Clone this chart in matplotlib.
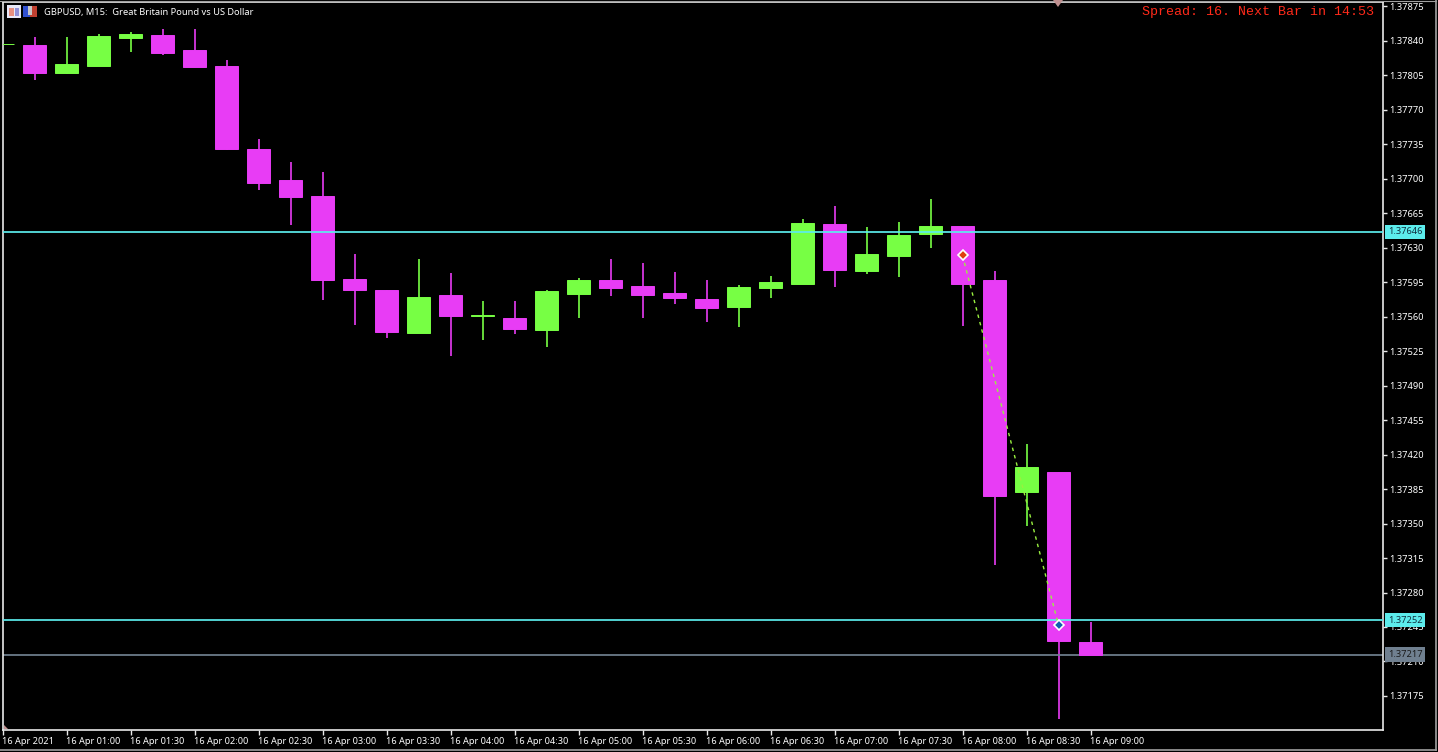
import numpy as np
import matplotlib
matplotlib.use("Agg")
import matplotlib.pyplot as plt
from matplotlib.patches import Rectangle
from matplotlib.lines import Line2D

W, H = 1438, 752

# prices in points (1e-5)
opens = [137836, 137835, 137807, 137814, 137843, 137846, 137830, 137814, 137730, 137699,
         137682, 137598, 137587, 137543, 137582, 137561, 137559, 137546, 137583, 137597,
         137591, 137584, 137578, 137570, 137589, 137593, 137654, 137606, 137621, 137644,
         137652, 137597, 137382, 137402, 137230]
highs = [137836, 137844, 137844, 137847, 137849, 137852, 137852, 137820, 137740, 137717,
         137707, 137623, 137587, 137618, 137604, 137576, 137576, 137587, 137599, 137618,
         137614, 137605, 137597, 137592, 137601, 137659, 137672, 137651, 137656, 137679,
         137652, 137606, 137431, 137402, 137250]
lows = [137836, 137800, 137806, 137814, 137828, 137825, 137812, 137729, 137688, 137653,
        137577, 137551, 137538, 137543, 137520, 137536, 137542, 137529, 137559, 137581,
        137558, 137573, 137554, 137549, 137579, 137593, 137590, 137603, 137600, 137630,
        137550, 137308, 137347, 137152, 137217]
closes = [137836, 137807, 137816, 137845, 137847, 137827, 137813, 137730, 137695, 137681,
          137597, 137587, 137544, 137580, 137561, 137562, 137547, 137586, 137597, 137589,
          137582, 137579, 137569, 137590, 137595, 137655, 137607, 137623, 137643, 137652,
          137593, 137378, 137407, 137231, 137217]

y_ticks = [1.37875, 1.37840, 1.37805, 1.37770, 1.37735, 1.37700, 1.37665, 1.37630, 1.37595,
           1.37560, 1.37525, 1.37490, 1.37455, 1.37420, 1.37385, 1.37350, 1.37315, 1.37280,
           1.37245, 1.37210, 1.37175]
x_labels = ["16 Apr 2021", "16 Apr 01:00", "16 Apr 01:30", "16 Apr 02:00", "16 Apr 02:30",
            "16 Apr 03:00", "16 Apr 03:30", "16 Apr 04:00", "16 Apr 04:30", "16 Apr 05:00",
            "16 Apr 05:30", "16 Apr 06:00", "16 Apr 06:30", "16 Apr 07:00", "16 Apr 07:30",
            "16 Apr 08:00", "16 Apr 08:30", "16 Apr 09:00"]

level_prices = [1.37646, 1.37252]
bid_price = 1.37217
trade_bars = [30, 33]
trade_prices = [1.37622, 1.37247]

BG = "#000000"
UP = "#77ff44"
DOWN = "#e83cf5"
CYAN = "#5cecec"
SLATE = "#708090"
FRAME = "#e8e8e8"
FONT = "Noto Sans"

o = np.array(opens) * 1e-5
h = np.array(highs) * 1e-5
l = np.array(lows) * 1e-5
c = np.array(closes) * 1e-5
idx = np.arange(len(o))
colors = [UP if up else DOWN for up in c >= o]

fig = plt.figure(figsize=(W / 100, H / 100), dpi=100, facecolor=BG)
ax = fig.add_axes([2.5 / W, (H - 730) / H, 1380.5 / W, 728.5 / H], facecolor=BG)

# candles
ax.vlines(idx, l, h, colors=colors, linewidth=1.2, zorder=2)
ax.bar(idx, np.abs(c - o), bottom=np.minimum(o, c), width=0.69, color=colors,
       edgecolor=colors, linewidth=0.7, zorder=3)

# levels
for p in level_prices:
    ax.axhline(p, color=CYAN, linewidth=1.25, zorder=4)
ax.axhline(bid_price, color=SLATE, linewidth=1.25, zorder=2.5)

# trade line and arrows
ax.plot(trade_bars, trade_prices, color="#99f040", linewidth=1.0, dashes=(2.5, 3), zorder=5)
ax.plot(trade_bars[0], trade_prices[0], marker="D", ms=4.8, mfc="#e04010", mec="white", mew=1.2, zorder=6)
ax.plot(trade_bars[1], trade_prices[1], marker="D", ms=4.8, mfc="#1060b0", mec="white", mew=1.2, zorder=6)

ax.set_xlim(0, 1380.5 / 32)
ax.set_ylim(1.371405, 1.378796)

ax.yaxis.tick_right()
ax.set_yticks(y_ticks)
ax.set_yticklabels([f"{v:.5f}" for v in y_ticks], fontfamily=FONT, fontsize=6.7, color="white")
ax.set_xticks(np.arange(len(x_labels)) * 2)
ax.set_xticklabels(x_labels, fontfamily=FONT, fontsize=6.6, color="white", ha="left")
ax.tick_params(axis="y", length=3, width=1, color=FRAME, pad=1.5)
ax.tick_params(axis="x", length=3.5, width=1, color=FRAME, pad=1.5)
for s in ax.spines.values():
    s.set_color(FRAME)
    s.set_linewidth(1.2)

# price tags on the scale
box_tr = ax.get_yaxis_transform()
for p, col in [(level_prices[0], CYAN), (level_prices[1], CYAN), (bid_price, SLATE)]:
    ax.text(1 + 5 / 1380.5, p, f"{p:.5f}", transform=box_tr, ha="left", va="center",
            fontfamily=FONT, fontsize=6.7, color="#103040" if col == CYAN else "#1a1a1a",
            zorder=20, clip_on=False,
            bbox=dict(boxstyle="square,pad=0.28", fc=col, ec="none"))

ax.text(1 - 9 / 1380.5, 1 - 10.5 / 728.5, "Spread: 16. Next Bar in 14:53", transform=ax.transAxes,
        ha="right", va="center", fontfamily="Liberation Mono", fontsize=9.6, color="#ff2a1a")
ax.text(41 / 1380.5, 1 - 10.5 / 728.5, "GBPUSD, M15:  Great Britain Pound vs US Dollar",
        transform=ax.transAxes, ha="left", va="center", fontfamily=FONT, fontsize=6.7, color="white")


def px_rect(x, y, w, hh, col, z=15):
    fig.add_artist(Rectangle((x / W, 1 - (y + hh) / H), w / W, hh / H, transform=fig.transFigure,
                             fc=col, ec="none", zorder=z))


# toolbar icons next to the symbol name
px_rect(7, 5, 14, 13, "#e8e8f8")
px_rect(9, 8, 5, 8, "#e89080")
px_rect(15, 8, 4, 8, "#9090d8")
px_rect(23, 6, 7, 11, "#3050d0")
px_rect(30, 6, 7, 11, "#c04030")
px_rect(28, 6, 4, 9, "#c8c8c8")

# chart shift markers
fig.add_artist(plt.Polygon([[1053 / W, 1], [1063 / W, 1], [1058 / W, 1 - 7 / H]],
                           transform=fig.transFigure, fc="#c09090", ec="none", zorder=16))
fig.add_artist(plt.Polygon([[4 / W, 1 - 729 / H], [4 / W, 1 - 725 / H], [8 / W, 1 - 729 / H]],
                           transform=fig.transFigure, fc="#c09090", ec="none", zorder=16))

# outer window edge
fig.add_artist(Line2D([1435.5 / W, 1435.5 / W], [1 - 750 / H, 1], transform=fig.transFigure,
                      color="#a0a0a0", linewidth=1.2))
fig.add_artist(Line2D([0, 1435.5 / W], [1 - 750 / H, 1 - 750 / H], transform=fig.transFigure,
                      color="#a0a0a0", linewidth=1.2))
fig.add_artist(Line2D([0, 1435.5 / W], [1 - 0.5 / H, 1 - 0.5 / H], transform=fig.transFigure,
                      color="#a0a0a0", linewidth=0.8))

fig.savefig("out.png", dpi=100, facecolor=BG)
